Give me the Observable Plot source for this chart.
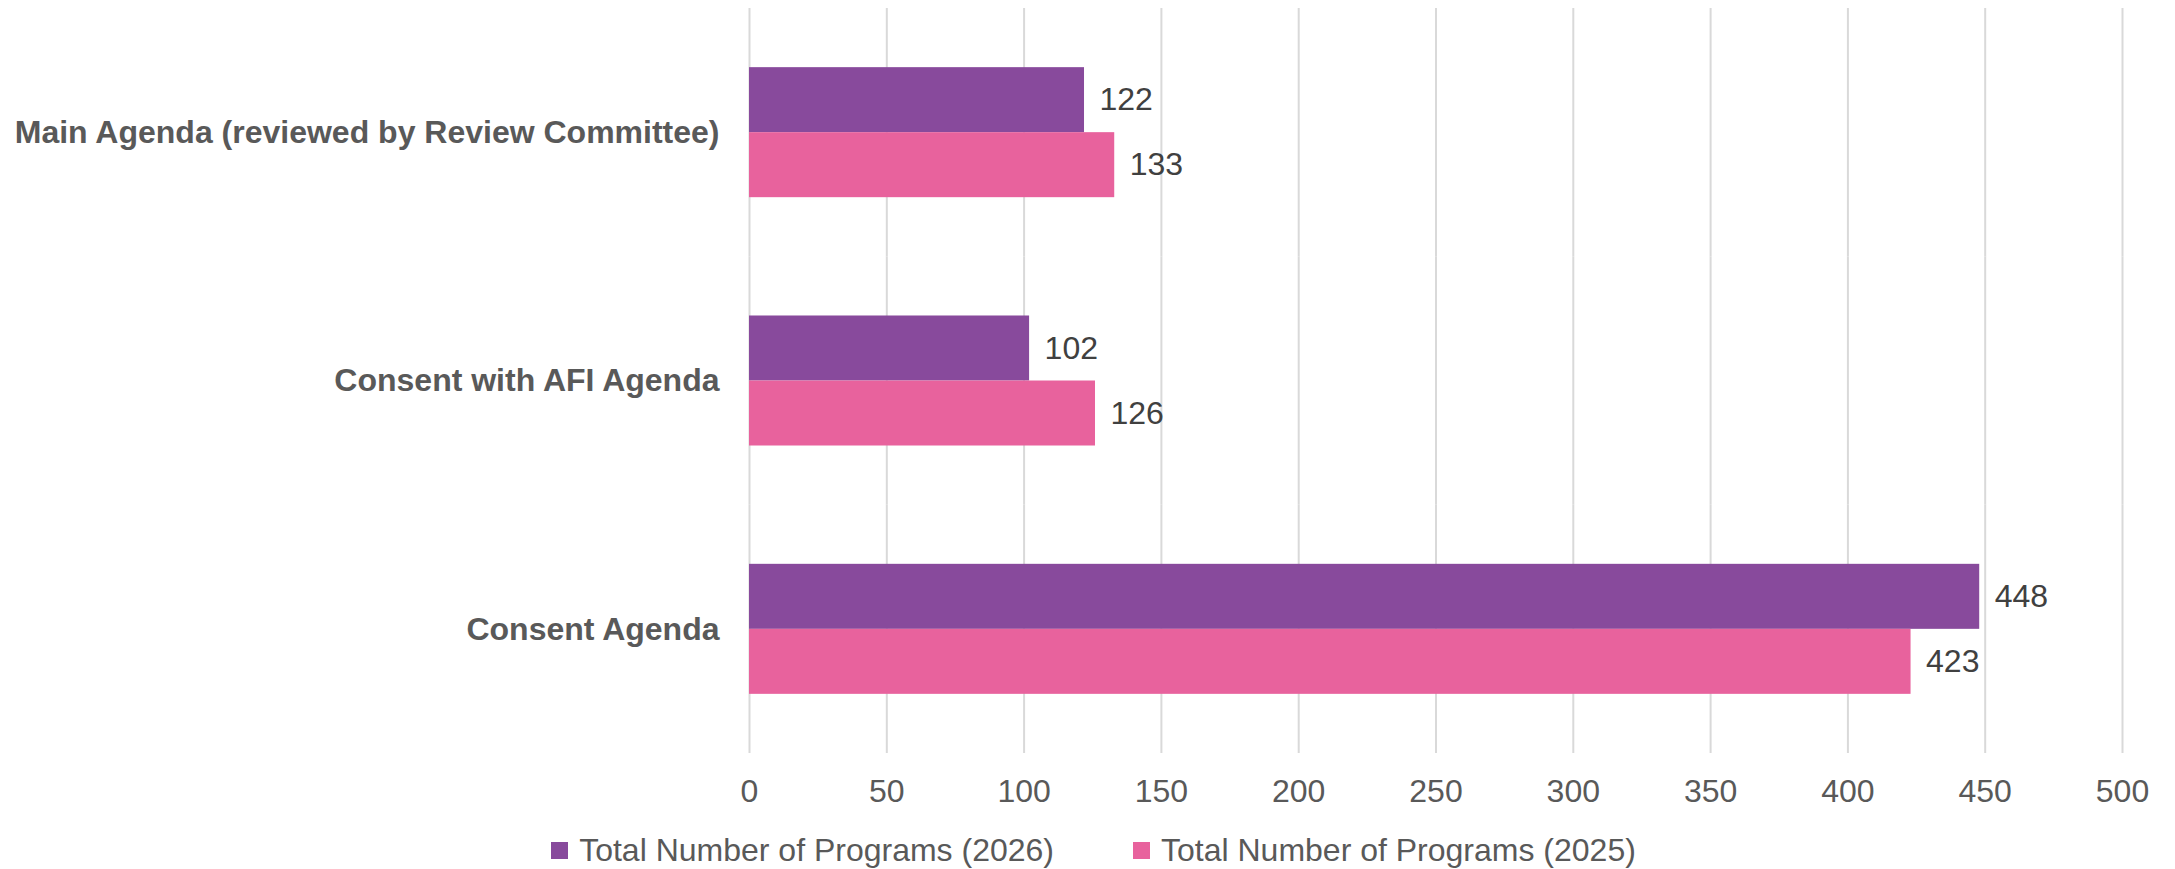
<!DOCTYPE html>
<html>
<head>
<meta charset="utf-8">
<script src="https://cdn.jsdelivr.net/npm/d3@7"></script>
<script src="https://cdn.jsdelivr.net/npm/@observablehq/plot@0.6"></script>
<style>
  html, body { margin: 0; padding: 0; background: #fff; }
  #wrap { position: relative; width: 2175px; height: 869px; font-family: Arial, "Liberation Sans", sans-serif; }
  #legend { position: absolute; left: 0; top: 833px; width: 2175px; height: 34px; display: flex; justify-content: center; align-items: center; padding-left: 12px; box-sizing: border-box; }
  .item { display: flex; align-items: center; font-size: 32px; color: #595959; white-space: nowrap; }
  .sw { width: 17px; height: 17px; margin-right: 11px; display: inline-block; }
</style>
</head>
<body>
<div id="wrap">
  <div id="chart"></div>
  <div id="legend"></div>
</div>
<script>
const categories = [
  "Main Agenda (reviewed by Review Committee)",
  "Consent with AFI Agenda",
  "Consent Agenda"
];
const seriesNames = ["Total Number of Programs (2026)", "Total Number of Programs (2025)"];
const values2026 = [122, 102, 448];
const values2025 = [133, 126, 423];
const xTicks = [0, 50, 100, 150, 200, 250, 300, 350, 400, 450, 500];
const seriesColors = ["#884A9C", "#E8629D"];

const rows = categories.flatMap((c, i) => [
  {category: c, series: seriesNames[0], value: values2026[i]},
  {category: c, series: seriesNames[1], value: values2025[i]}
]);

const chart = Plot.plot({
  width: 2175,
  height: 815,
  marginLeft: 749,
  marginRight: 53,
  marginTop: 8,
  marginBottom: 62,
  style: {fontFamily: "Arial, 'Liberation Sans', sans-serif", fontSize: "32px", color: "#595959", background: "white"},
  x: {domain: [0, 500], ticks: xTicks.length - 1, tickSize: 0, tickPadding: 26, label: null},
  y: {domain: seriesNames, paddingInner: 0, paddingOuter: 0.91, axis: null, round: false},
  fy: {domain: categories, padding: 0, axis: null, round: false},
  color: {domain: seriesNames, range: seriesColors},
  marks: [
    Plot.ruleX(xTicks, {stroke: "#d9d9d9", strokeWidth: 2}),
    Plot.barX(rows, {x: "value", y: "series", fy: "category", fill: "series"}),
    Plot.text(rows, {x: "value", y: "series", fy: "category", text: d => String(d.value), textAnchor: "start", dx: 15, fill: "#404040", fontSize: 32}),
    Plot.text(categories, {fy: d => d, text: d => d, frameAnchor: "left", textAnchor: "end", dx: -30, fontWeight: "bold", fontSize: 32, fill: "#595959"})
  ]
});
document.getElementById("chart").appendChild(chart);

const legend = document.getElementById("legend");
seriesNames.forEach((name, i) => {
  const item = document.createElement("div");
  item.className = "item";
  if (i > 0) item.style.marginLeft = "79px";
  const sw = document.createElement("span");
  sw.className = "sw";
  sw.style.background = seriesColors[i];
  const label = document.createElement("span");
  label.textContent = name;
  item.appendChild(sw);
  item.appendChild(label);
  legend.appendChild(item);
});
</script>
</body>
</html>
